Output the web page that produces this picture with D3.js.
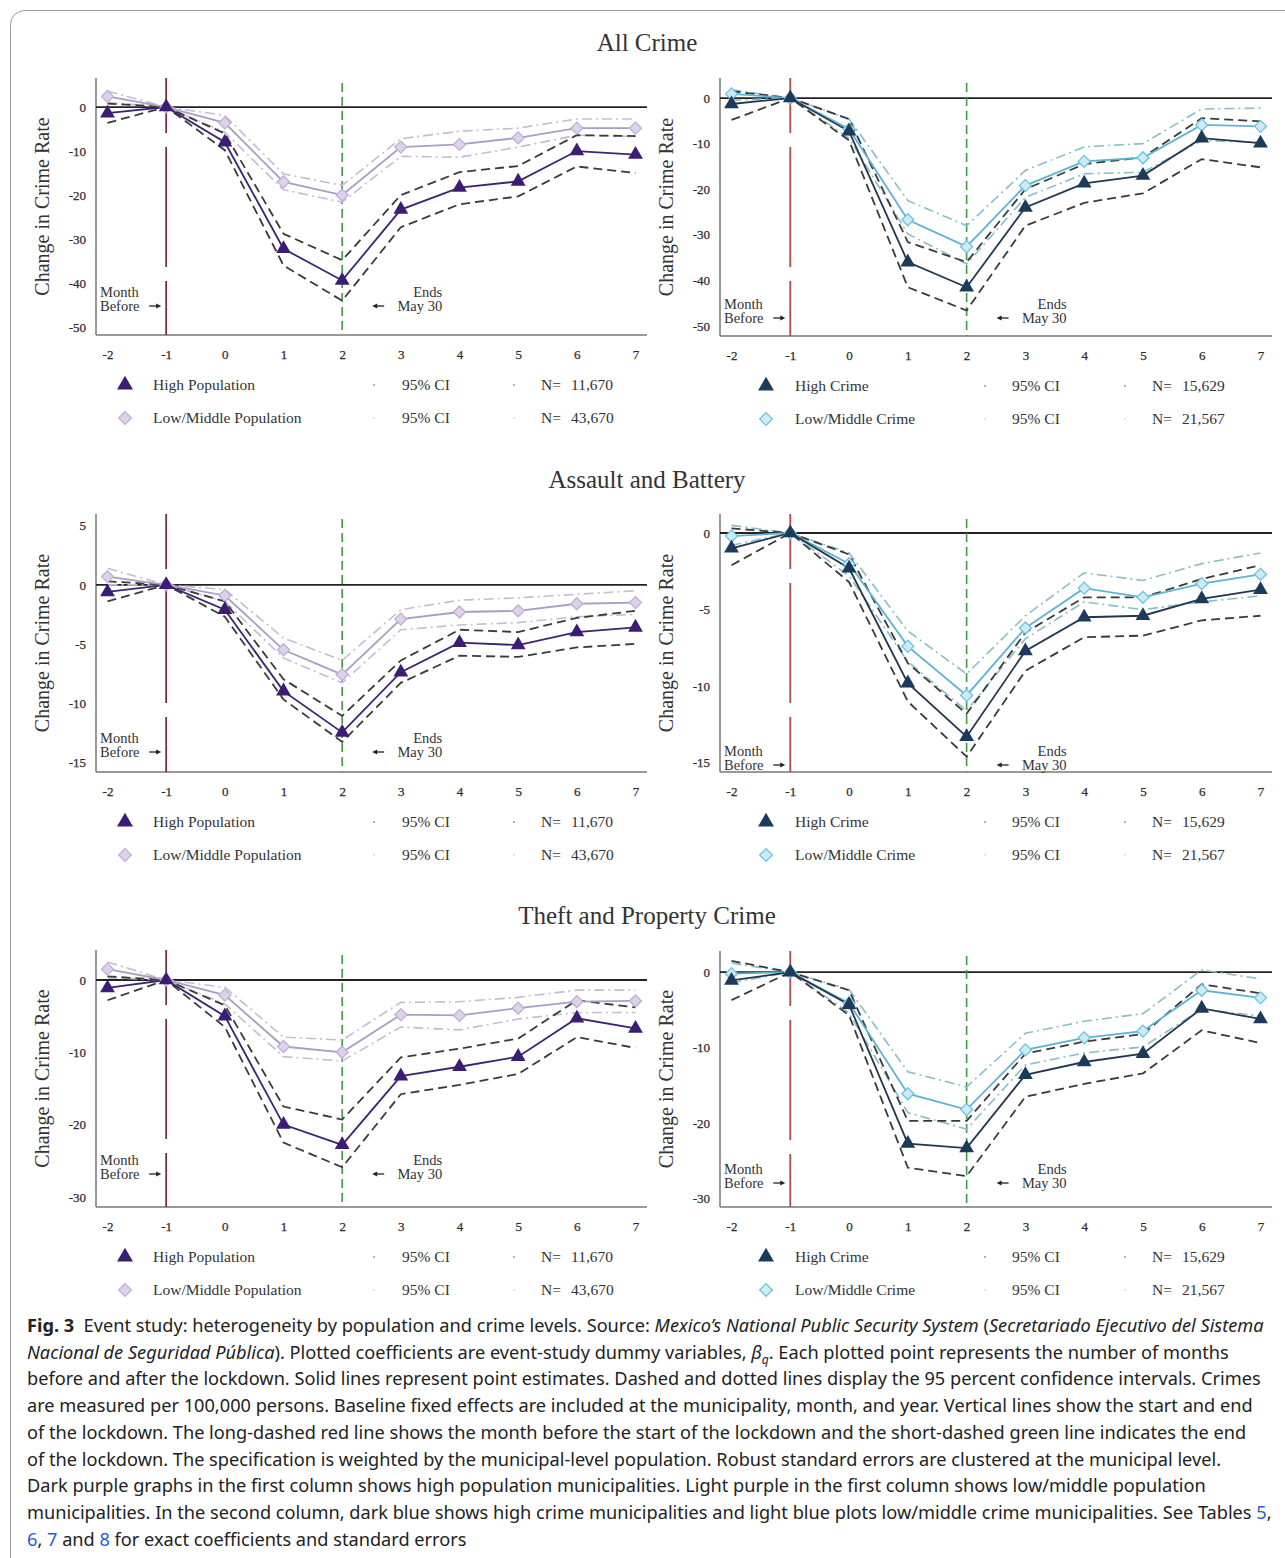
<!DOCTYPE html>
<html>
<head>
<meta charset="utf-8">
<script src="https://cdn.jsdelivr.net/npm/d3@7"></script>
<style>
body { margin: 0; background: #fff; }
svg text { font-family: "Liberation Serif", "DejaVu Serif", serif; fill: #333; }
.caption text { font-family: "Noto Sans", "Open Sans", sans-serif; fill: #222; }
</style>
</head>
<body>
<div class="chart"></div>
<script>
const months = [-2, -1, 0, 1, 2, 3, 4, 5, 6, 7];

// All crime - population split
const allPopHigh   = [-1.4, 0, -8.0, -32.2, -39.4, -23.3, -18.3, -16.9, -10.0, -10.8];
const allPopHighLo = [-3.6, 0, -9.8, -36.0, -44.0, -27.3, -22.1, -20.3, -13.5, -15.0];
const allPopHighHi = [0.8, 0, -6.0, -28.8, -34.8, -20.0, -14.8, -13.4, -6.4, -6.6];
const allPopLow    = [2.4, 0, -3.6, -17.0, -20.0, -9.1, -8.5, -7.0, -4.8, -4.8];
const allPopLowLo  = [1.0, 0, -5.7, -18.8, -21.6, -11.2, -11.4, -9.1, -6.4, -6.7];
const allPopLowHi  = [3.6, 0, -1.9, -15.2, -17.8, -7.2, -5.5, -4.8, -2.7, -2.7];

// All crime - crime level split
const allCrimeHigh   = [-1.3, 0, -7.3, -36.0, -41.5, -24.0, -18.7, -17.0, -8.8, -9.9];
const allCrimeHighLo = [-4.8, 0, -9.3, -41.5, -46.6, -28.0, -23.0, -20.9, -13.4, -15.2];
const allCrimeHighHi = [1.5, 0, -4.6, -31.6, -36.0, -20.0, -14.5, -13.0, -4.4, -5.1];
const allCrimeLow    = [0.9, 0, -6.8, -26.7, -32.6, -19.2, -13.9, -13.1, -5.9, -6.2];
const allCrimeLowLo  = [-0.5, 0, -8.8, -29.8, -36.4, -21.8, -16.6, -16.3, -9.3, -9.7];
const allCrimeLowHi  = [1.8, 0, -4.6, -22.5, -28.0, -15.9, -10.7, -10.0, -2.4, -2.2];

// Assault and battery - population
const asPopHigh   = [-0.6, 0, -2.1, -9.0, -12.5, -7.4, -4.9, -5.1, -4.0, -3.6];
const asPopHighLo = [-1.4, 0, -2.7, -9.7, -13.3, -8.3, -6.0, -6.1, -5.3, -5.0];
const asPopHighHi = [0.3, 0, -1.4, -8.0, -11.1, -6.4, -3.8, -4.0, -2.8, -2.2];
const asPopLow    = [0.7, 0, -0.9, -5.5, -7.6, -2.9, -2.3, -2.2, -1.6, -1.5];
const asPopLowLo  = [0.0, 0, -1.4, -6.2, -8.3, -3.8, -3.4, -3.2, -2.7, -2.5];
const asPopLowHi  = [1.4, 0, -0.4, -4.5, -6.4, -2.1, -1.3, -1.1, -0.8, -0.5];

// Assault and battery - crime level
const asCrimeHigh   = [-1.0, 0, -2.3, -9.8, -13.3, -7.7, -5.5, -5.4, -4.3, -3.7];
const asCrimeHighLo = [-2.1, 0, -3.2, -11.0, -14.6, -9.0, -6.8, -6.7, -5.7, -5.4];
const asCrimeHighHi = [0.3, 0, -1.4, -8.5, -11.8, -6.5, -4.2, -4.2, -3.0, -2.1];
const asCrimeLow    = [-0.2, 0, -2.0, -7.4, -10.6, -6.2, -3.6, -4.2, -3.3, -2.7];
const asCrimeLowLo  = [-0.8, 0, -2.8, -8.4, -11.6, -6.9, -4.5, -5.0, -4.5, -4.1];
const asCrimeLowHi  = [0.5, 0, -1.3, -6.4, -9.2, -5.4, -2.6, -3.1, -2.0, -1.3];

// Theft and property crime - population
const thPopHigh   = [-1.1, 0, -5.0, -20.0, -22.8, -13.3, -12.0, -10.6, -5.3, -6.7];
const thPopHighLo = [-2.8, 0, -6.5, -22.5, -25.9, -15.8, -14.5, -13.0, -7.9, -9.4];
const thPopHighHi = [0.5, 0, -3.5, -17.5, -19.3, -10.7, -9.5, -8.1, -2.8, -3.8];
const thPopLow    = [1.5, 0, -2.1, -9.2, -10.0, -4.8, -4.9, -3.9, -3.0, -2.9];
const thPopLowLo  = [0.3, 0, -3.3, -10.6, -11.2, -6.5, -6.9, -5.4, -4.5, -4.5];
const thPopLowHi  = [2.5, 0, -1.0, -7.9, -8.3, -3.1, -3.0, -2.4, -1.4, -1.4];

// Theft and property crime - crime level
const thCrimeHigh   = [-1.1, 0, -4.3, -22.7, -23.3, -13.6, -11.9, -10.8, -4.8, -6.2];
const thCrimeHighLo = [-3.7, 0, -5.7, -25.9, -27.0, -16.5, -14.8, -13.4, -7.7, -9.4];
const thCrimeHighHi = [1.5, 0, -2.4, -19.7, -19.7, -10.8, -9.2, -8.2, -1.6, -2.8];
const thCrimeLow    = [-0.2, 0, -4.1, -16.1, -18.2, -10.3, -8.7, -7.8, -2.4, -3.4];
const thCrimeLowLo  = [-1.4, 0, -5.4, -18.6, -20.8, -12.3, -10.7, -9.9, -4.9, -5.8];
const thCrimeLowHi  = [1.2, 0, -2.3, -13.2, -15.2, -8.1, -6.5, -5.5, 0.3, -0.9];

const allTicks = [0, -10, -20, -30, -40, -50];
const asPopTicks = [5, 0, -5, -10, -15];
const asCrimeTicks = [0, -5, -10, -15];
const thTicks = [0, -10, -20, -30];

const sectionTitles = ["All Crime", "Assault and Battery", "Theft and Property Crime"];
const popLabels = ["High Population", "Low/Middle Population"];
const crimeLabels = ["High Crime", "Low/Middle Crime"];
const popN = ["11,670", "43,670"];
const crimeN = ["15,629", "21,567"];

const width = 1285;
const height = 1558;
const svg = d3.select(".chart").append("svg").attr("width", width).attr("height", height);

svg.append("rect")
    .attr("x", 10.5).attr("y", 10.5)
    .attr("width", 1300).attr("height", 1600)
    .attr("rx", 14)
    .attr("fill", "none").attr("stroke", "#9a9a9a");

const cols = [
    {left: 96, right: 647, ylab: 42, red: "#74304c",
     mk: [29, 57, 278, 306, 418, 445, 475]},
    {left: 720, right: 1272, ylab: 666, red: "#ad4c4c",
     mk: [46, 75, 265, 292, 405, 432, 462]}
];

const popStyle = {
    high: "#3d2470", highMark: "#3b1d74",
    low: "#ab9cc4", lowFill: "#ddd2ea", lowStroke: "#bfaed6", lowCI: "#c6bcd2"
};
const crimeStyle = {
    high: "#22374f", highMark: "#1c3a5a",
    low: "#5fb3d2", lowFill: "#cdebf6", lowStroke: "#6dc2e0", lowCI: "#8cbcc6"
};

const panels = [
    {col: 0, top: 78, bottom: 335, dom: [-51.8, 6.6], ticks: allTicks, ann: [293, 307],
     s: [allPopHigh, allPopHighLo, allPopHighHi, allPopLow, allPopLowLo, allPopLowHi],
     labels: popLabels, ns: popN, st: popStyle},
    {col: 1, top: 78, bottom: 336, dom: [-52.2, 4.4], ticks: allTicks, ann: [305, 319],
     s: [allCrimeHigh, allCrimeHighLo, allCrimeHighHi, allCrimeLow, allCrimeLowLo, allCrimeLowHi],
     labels: crimeLabels, ns: crimeN, st: crimeStyle},
    {col: 0, top: 514, bottom: 772, dom: [-15.85, 6.0], ticks: asPopTicks, ann: [739, 753],
     s: [asPopHigh, asPopHighLo, asPopHighHi, asPopLow, asPopLowLo, asPopLowHi],
     labels: popLabels, ns: popN, st: popStyle},
    {col: 1, top: 514, bottom: 772, dom: [-15.6, 1.24], ticks: asCrimeTicks, ann: [752, 766],
     s: [asCrimeHigh, asCrimeHighLo, asCrimeHighHi, asCrimeLow, asCrimeLowLo, asCrimeLowHi],
     labels: crimeLabels, ns: crimeN, st: crimeStyle},
    {col: 0, top: 950, bottom: 1207, dom: [-31.4, 4.15], ticks: thTicks, ann: [1161, 1175],
     s: [thPopHigh, thPopHighLo, thPopHighHi, thPopLow, thPopLowLo, thPopLowHi],
     labels: popLabels, ns: popN, st: popStyle},
    {col: 1, top: 951, bottom: 1207, dom: [-31.1, 2.8], ticks: thTicks, ann: [1170, 1184],
     s: [thCrimeHigh, thCrimeHighLo, thCrimeHighHi, thCrimeLow, thCrimeLowLo, thCrimeLowHi],
     labels: crimeLabels, ns: crimeN, st: crimeStyle}
];

// section titles
const titleY = [51, 488, 924];
svg.selectAll(".sec")
    .data(sectionTitles)
    .join("text")
    .attr("class", "sec")
    .attr("x", 647)
    .attr("y", (d, i) => titleY[i])
    .attr("text-anchor", "middle")
    .attr("font-size", 25)
    .text(d => d);

// small annotation arrow, dir = 1 points right, -1 points left
function arrow(g, x0, yy, dir) {
    const x1 = x0 + dir * 12;
    g.append("line").attr("x1", x0).attr("x2", x1 - dir * 3).attr("y1", yy).attr("y2", yy)
        .attr("stroke", "#222").attr("stroke-width", 1.3);
    g.append("path")
        .attr("d", "M" + x1 + "," + yy + " L" + (x1 - dir * 5) + "," + (yy - 2.6) +
            " L" + (x1 - dir * 5) + "," + (yy + 2.6) + " Z")
        .attr("fill", "#222");
}

panels.forEach(p => {
    const c = cols[p.col];
    const x = d3.scaleLinear().domain([-2, 7]).range([c.left + 11.5, c.right - 11.5]);
    const y = d3.scaleLinear().domain(p.dom).range([p.bottom, p.top]);
    const g = svg.append("g");
    const st = p.st;

    // axis lines
    g.append("line").attr("x1", c.left).attr("x2", c.left).attr("y1", p.top).attr("y2", p.bottom)
        .attr("stroke", "#777").attr("stroke-width", 1.5);
    g.append("line").attr("x1", c.left).attr("x2", c.right).attr("y1", p.bottom).attr("y2", p.bottom)
        .attr("stroke", "#777").attr("stroke-width", 1.5);

    const ya = g.append("g").attr("transform", "translate(" + c.left + ",0)")
        .call(d3.axisLeft(y).tickValues(p.ticks).tickSize(0).tickPadding(10).tickFormat(d => String(d)));
    const xa = g.append("g").attr("transform", "translate(0," + p.bottom + ")")
        .call(d3.axisBottom(x).tickValues(months).tickSize(0).tickPadding(15).tickFormat(d => String(d)));
    [ya, xa].forEach(a => {
        a.select(".domain").remove();
        a.selectAll("text").attr("font-size", 13).attr("font-family", "Liberation Serif")
            .attr("fill", "#222").attr("stroke", "#222").attr("stroke-width", 0.25);
    });

    // zero line
    g.append("line").attr("x1", c.left).attr("x2", c.right).attr("y1", y(0)).attr("y2", y(0))
        .attr("stroke", "#222").attr("stroke-width", 1.8);

    // lockdown markers
    g.append("line").attr("x1", x(-1)).attr("x2", x(-1)).attr("y1", p.top).attr("y2", p.bottom)
        .attr("stroke", c.red).attr("stroke-width", 1.8)
        .attr("stroke-dasharray", "120,14").attr("stroke-dashoffset", 65);
    g.append("line").attr("x1", x(2)).attr("x2", x(2)).attr("y1", p.top + 5).attr("y2", p.bottom)
        .attr("stroke", "#3f9a45").attr("stroke-width", 1.6).attr("stroke-dasharray", "9,5");

    g.append("text")
        .attr("transform", "translate(" + c.ylab + "," + ((p.top + p.bottom) / 2) + ") rotate(-90)")
        .attr("text-anchor", "middle").attr("dy", "0.35em")
        .attr("font-size", 20).text("Change in Crime Rate");

    // annotations
    const ax = c.left + 4;
    g.append("text").attr("x", ax).attr("y", p.ann[0] + 4).attr("font-size", 14.5).text("Month");
    g.append("text").attr("x", ax).attr("y", p.ann[1] + 4).attr("font-size", 14.5).text("Before");
    arrow(g, x(-1) - 17, p.ann[1] - 1, 1);
    g.append("text").attr("x", x(2) + 100).attr("y", p.ann[0] + 4).attr("text-anchor", "end")
        .attr("font-size", 14.5).text("Ends");
    g.append("text").attr("x", x(2) + 100).attr("y", p.ann[1] + 4).attr("text-anchor", "end")
        .attr("font-size", 14.5).text("May 30");
    arrow(g, x(2) + 42, p.ann[1] - 1, -1);

    const line = d3.line().x((d, i) => x(months[i])).y(d => y(d));

    // low/middle series
    [p.s[4], p.s[5]].forEach(arr => {
        g.append("path").datum(arr).attr("d", line).attr("fill", "none")
            .attr("stroke", st.lowCI).attr("stroke-width", 1.6).attr("stroke-dasharray", "10,4,2,4");
    });
    // high series CI
    [p.s[1], p.s[2]].forEach(arr => {
        g.append("path").datum(arr).attr("d", line).attr("fill", "none")
            .attr("stroke", "#3a3a3a").attr("stroke-width", 1.8).attr("stroke-dasharray", "9,5");
    });
    g.append("path").datum(p.s[3]).attr("d", line).attr("fill", "none")
        .attr("stroke", st.low).attr("stroke-width", 1.8);
    g.append("path").datum(p.s[0]).attr("d", line).attr("fill", "none")
        .attr("stroke", st.high).attr("stroke-width", 1.8);

    g.selectAll(".dia").data(p.s[3]).join("path").attr("class", "dia")
        .attr("transform", (d, i) => "translate(" + x(months[i]) + "," + y(d) + ") rotate(45)")
        .attr("d", d3.symbol(d3.symbolSquare, 72)())
        .attr("fill", st.lowFill).attr("stroke", st.lowStroke).attr("stroke-width", 1.3);
    g.selectAll(".tri").data(p.s[0]).join("path").attr("class", "tri")
        .attr("transform", (d, i) => "translate(" + x(months[i]) + "," + y(d) + ")")
        .attr("d", d3.symbol(d3.symbolTriangle, 95)())
        .attr("fill", st.highMark);

    // legend
    const rows = [p.bottom + 50, p.bottom + 83];
    const m = c.mk;
    g.append("path").attr("transform", "translate(" + (c.left + m[0]) + "," + rows[0] + ")")
        .attr("d", d3.symbol(d3.symbolTriangle, 110)()).attr("fill", st.highMark);
    g.append("path").attr("transform", "translate(" + (c.left + m[0]) + "," + rows[1] + ") rotate(45)")
        .attr("d", d3.symbol(d3.symbolSquare, 80)())
        .attr("fill", st.lowFill).attr("stroke", st.lowStroke).attr("stroke-width", 1.3);
    rows.forEach((ry, i) => {
        g.append("text").attr("x", c.left + m[1]).attr("y", ry + 5).attr("font-size", 15.5).text(p.labels[i]);
        g.append("circle").attr("cx", c.left + m[2]).attr("cy", ry).attr("r", 1)
            .attr("fill", i === 0 ? "#999" : "#ddd");
        g.append("text").attr("x", c.left + m[3]).attr("y", ry + 5).attr("font-size", 15.5).text("95% CI");
        g.append("circle").attr("cx", c.left + m[4]).attr("cy", ry).attr("r", 1)
            .attr("fill", i === 0 ? "#999" : "#ddd");
        g.append("text").attr("x", c.left + m[5]).attr("y", ry + 5).attr("font-size", 15.5).text("N=");
        g.append("text").attr("x", c.left + m[6]).attr("y", ry + 5).attr("font-size", 15.5).text(p.ns[i]);
    });
});

// caption
const captionLines = [
    [["Fig. 3", "b"], ["  Event study: heterogeneity by population and crime levels. Source: ", ""],
     ["Mexico’s National Public Security System", "i"], [" (", ""], ["Secretariado Ejecutivo del Sistema", "i"]],
    [["Nacional de Seguridad Pública", "i"], ["). Plotted coefficients are event-study dummy variables, ", ""],
     ["β", "i"], ["q", "sub"], [". Each plotted point represents the number of months", "up"]],
    [["before and after the lockdown. Solid lines represent point estimates. Dashed and dotted lines display the 95 percent confidence intervals. Crimes", ""]],
    [["are measured per 100,000 persons. Baseline fixed effects are included at the municipality, month, and year. Vertical lines show the start and end", ""]],
    [["of the lockdown. The long-dashed red line shows the month before the start of the lockdown and the short-dashed green line indicates the end", ""]],
    [["of the lockdown. The specification is weighted by the municipal-level population. Robust standard errors are clustered at the municipal level.", ""]],
    [["Dark purple graphs in the first column shows high population municipalities. Light purple in the first column shows low/middle population", ""]],
    [["municipalities. In the second column, dark blue shows high crime municipalities and light blue plots low/middle crime municipalities. See Tables ", ""],
     ["5", "a"], [",", ""]],
    [["6", "a"], [", ", ""], ["7", "a"], [" and ", ""], ["8", "a"], [" for exact coefficients and standard errors", ""]]
];

const cap = svg.append("g").attr("class", "caption");
const capTexts = [];
captionLines.forEach((segs, i) => {
    const t = cap.append("text").attr("x", 0).attr("y", 1332 + i * 26.75)
        .attr("font-size", 18).attr("xml:space", "preserve");
    segs.forEach(s => {
        const ts = t.append("tspan").text(s[0]);
        if (s[1] === "b") ts.attr("font-weight", "bold");
        if (s[1] === "i") ts.attr("font-style", "italic");
        if (s[1] === "a") ts.attr("fill", "#2a5bd7");
        if (s[1] === "sub") ts.attr("font-style", "italic").attr("font-size", 12).attr("dy", 5);
        if (s[1] === "up") ts.attr("dy", -5);
    });
    capTexts.push(t);
});
const w0 = capTexts[0].node().getComputedTextLength();
const k = 1238 / w0;
cap.attr("transform", "translate(27,0) scale(" + k + ",1)");
</script>
</body>
</html>
